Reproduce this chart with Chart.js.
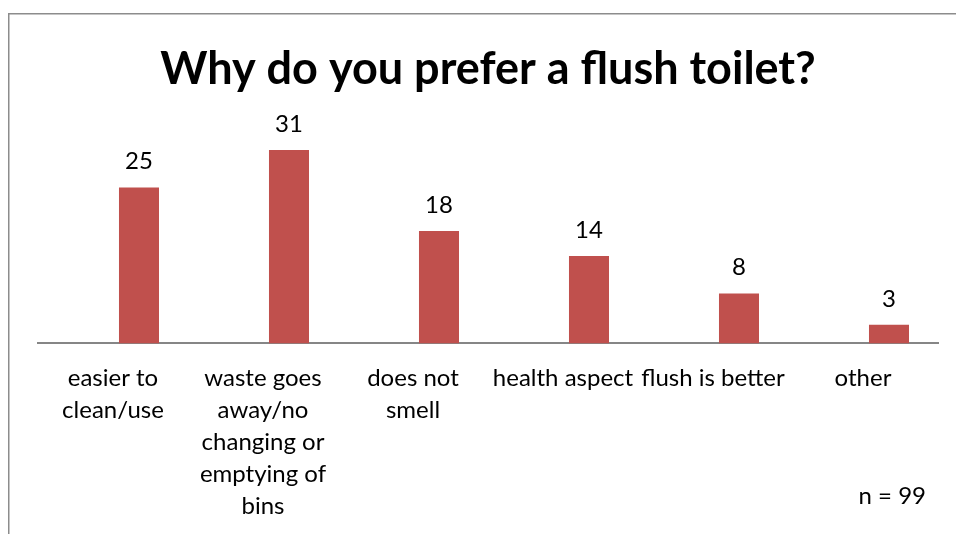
<!DOCTYPE html>
<html>
<head>
<meta charset="utf-8">
<script src="https://cdn.jsdelivr.net/npm/chart.js@4/dist/chart.umd.min.js"></script>
<style>
  html, body { margin: 0; padding: 0; background: #fff; }
  canvas { display: block; }
</style>
</head>
<body>
<canvas id="toiletChart" width="956" height="534"></canvas>
<script>
// data
const categories = [
  ['easier to', 'clean/use'],
  ['waste goes', 'away/no', 'changing or', 'emptying of', 'bins'],
  ['does not', 'smell'],
  'health aspect',
  'flush is better',
  'other'
];
const answers = [25, 31, 18, 14, 8, 3];
const emptySeries = [null, null, null, null, null, null];
const sampleNote = 'n = 99';
const chartTitle = 'Why do you prefer a flush toilet?';

const FONT = 'Lato, "Liberation Sans", sans-serif';

// frame around the chart, like the spreadsheet chart box
const framePlugin = {
  id: 'frame',
  beforeDraw(chart) {
    const ctx = chart.ctx;
    ctx.save();
    ctx.fillStyle = '#fff';
    ctx.fillRect(0, 0, chart.width, chart.height);
    ctx.strokeStyle = '#8c8c8c';
    ctx.lineWidth = 1.5;
    ctx.beginPath();
    ctx.moveTo(8.75, chart.height + 5);
    ctx.lineTo(8.75, 13.75);
    ctx.lineTo(chart.width + 5, 13.75);
    ctx.stroke();
    ctx.restore();
  }
};

// value on top of each bar plus the n note
const valueLabels = {
  id: 'valueLabels',
  afterDatasetsDraw(chart) {
    const ctx = chart.ctx;
    const meta = chart.getDatasetMeta(1);
    ctx.save();
    ctx.font = '24px ' + FONT;
    ctx.fillStyle = '#000';
    ctx.textAlign = 'center';
    ctx.textBaseline = 'alphabetic';
    meta.data.forEach((bar, i) => {
      ctx.fillText(answers[i], bar.x, bar.y - 18);
    });
    ctx.textAlign = 'right';
    ctx.fillText(sampleNote, chart.chartArea.right - 12, 504);
    ctx.restore();
  }
};

const ctx = document.getElementById('toiletChart').getContext('2d');
new Chart(ctx, {
  type: 'bar',
  data: {
    labels: categories,
    datasets: [
      { data: emptySeries, backgroundColor: '#C0504D' },
      { data: answers, backgroundColor: '#C0504D' }
    ]
  },
  options: {
    responsive: false,
    animation: false,
    categoryPercentage: 0.693,
    barPercentage: 0.77,
    layout: { padding: { left: 38, right: 18, top: 0, bottom: 1 } },
    plugins: {
      legend: { display: false },
      tooltip: { enabled: false },
      title: {
        display: true,
        text: chartTitle,
        color: '#000',
        font: { family: FONT, size: 45, weight: 'bold', lineHeight: 1.2 },
        padding: { top: 42, bottom: 29 }
      }
    },
    scales: {
      x: {
        grid: { display: false },
        border: { display: true, color: '#868686', width: 2 },
        ticks: {
          color: '#000',
          maxRotation: 0,
          autoSkip: false,
          padding: 11,
          font: { family: FONT, size: 24, lineHeight: 1.33 }
        }
      },
      y: {
        display: false,
        min: 0,
        max: 35
      }
    }
  },
  plugins: [framePlugin, valueLabels]
});
</script>
</body>
</html>
